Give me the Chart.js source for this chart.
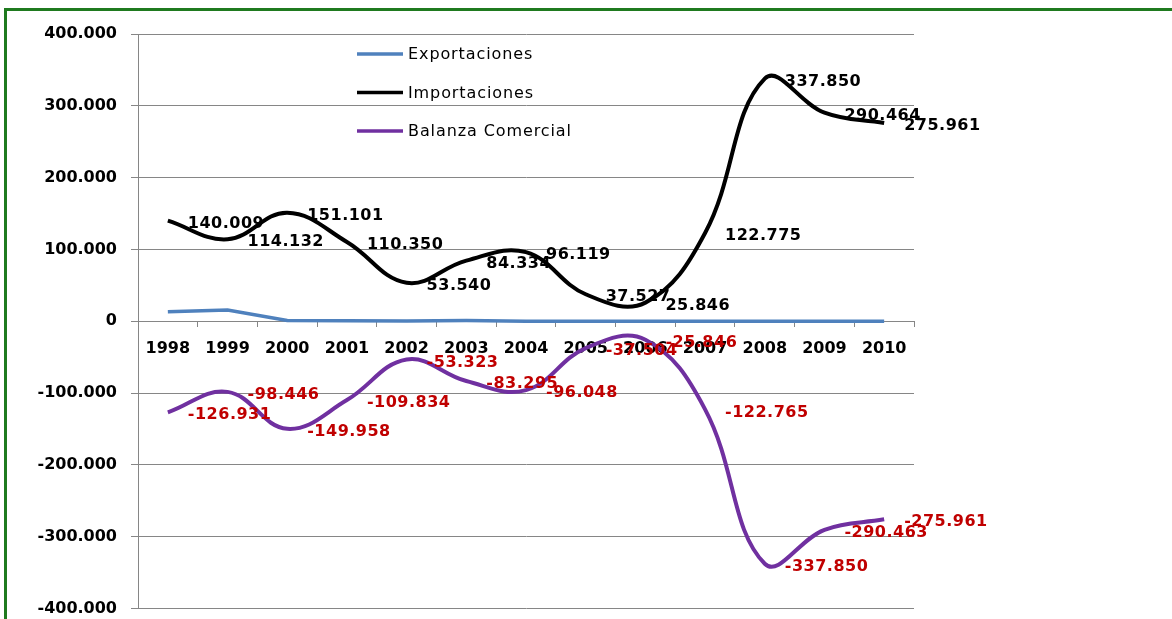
<!DOCTYPE html>
<html>
<head>
<meta charset="utf-8">
<script src="https://cdn.jsdelivr.net/npm/chart.js@4/dist/chart.umd.min.js"></script>
<style>
  html, body { margin: 0; padding: 0; background: #fff; overflow: hidden; }
  #wrap { position: relative; width: 1172px; height: 619px; overflow: hidden; }
  #frame { position: absolute; left: 4px; top: 8px; width: 3000px; height: 3000px;
           border: 3px solid #1f7a1f; pointer-events: none; }
  canvas { position: absolute; left: 0; top: 0; }
</style>
</head>
<body>
<div id="wrap">
  <canvas id="c" width="1172" height="632"></canvas>
  <div id="frame"></div>
</div>
<script>
// ---- data ----
const years = ['1998','1999','2000','2001','2002','2003','2004','2005','2006','2007','2008','2009','2010'];
const exportaciones = [13078, 15686, 1143, 516, 217, 1039, 71, 23, 0, 10, 0, 1, 0];
const importaciones = [140009, 114132, 151101, 110350, 53540, 84334, 96119, 37527, 25846, 122775, 337850, 290464, 275961];
const balanzaComercial = [-126931, -98446, -149958, -109834, -53323, -83295, -96048, -37504, -25846, -122765, -337850, -290463, -275961];
const seriesNames = ['Exportaciones', 'Importaciones', 'Balanza Comercial'];
const yMin = -400000, yMax = 400000, yStep = 100000;

function fmt(v) {
  if (v === 0) return '0';
  const neg = v < 0;
  let s = String(Math.abs(Math.round(v)));
  s = s.replace(/\B(?=(\d{3})+(?!\d))/g, '.');
  return (neg ? '-' : '') + s;
}

const dataLabels = {
  id: 'dataLabels',
  afterDatasetsDraw(chart) {
    const ctx = chart.ctx;
    ctx.save();
    ctx.font = 'bold 16px "DejaVu Sans"';
    ctx.letterSpacing = '0.5px';
    ctx.textAlign = 'left';
    ctx.textBaseline = 'middle';
    chart.data.datasets.forEach((ds, i) => {
      if (!ds.labelColor) return;
      const meta = chart.getDatasetMeta(i);
      ctx.fillStyle = ds.labelColor;
      meta.data.forEach((pt, j) => {
        ctx.fillText(fmt(ds.data[j]), pt.x + 20, pt.y + 3);
      });
    });
    ctx.restore();
  }
};

const customLegend = {
  id: 'customLegend',
  afterDraw(chart, args, opts) {
    const ctx = chart.ctx;
    ctx.save();
    ctx.font = '16px "DejaVu Sans"';
    ctx.letterSpacing = '0.9px';
    ctx.textAlign = 'left';
    ctx.textBaseline = 'middle';
    chart.data.datasets.forEach((ds, i) => {
      const y = opts.y + i * opts.gap;
      ctx.strokeStyle = ds.borderColor;
      ctx.lineWidth = 3.5;
      ctx.beginPath();
      ctx.moveTo(opts.x, y);
      ctx.lineTo(opts.x + opts.len, y);
      ctx.stroke();
      ctx.fillStyle = '#000';
      ctx.fillText(ds.label, opts.x + opts.len + 5, y + 1);
    });
    ctx.restore();
  }
};

new Chart(document.getElementById('c'), {
  type: 'line',
  data: {
    labels: years,
    datasets: [
      { label: seriesNames[0], data: exportaciones, borderColor: '#4f81bd', borderWidth: 3.5,
        pointRadius: 0, tension: 0, labelColor: null },
      { label: seriesNames[1], data: importaciones, borderColor: '#000000', borderWidth: 4,
        pointRadius: 0, tension: 0.4, labelColor: '#000000' },
      { label: seriesNames[2], data: balanzaComercial, borderColor: '#7030a0', borderWidth: 4,
        pointRadius: 0, tension: 0.4, labelColor: '#c00000' }
    ]
  },
  options: {
    responsive: false,
    animation: false,
    layout: { padding: { top: 34, bottom: 11, left: 0, right: 258 } },
    plugins: {
      legend: { display: false },
      tooltip: { enabled: false },
      customLegend: { x: 357, y: 54, gap: 38.5, len: 46 }
    },
    scales: {
      x: {
        position: { y: 0 },
        offset: true,
        z: 1,
        grid: { display: true, drawOnChartArea: false, drawTicks: true, tickLength: 6,
                color: '#868686', offset: true },
        border: { display: false },
        ticks: { font: { family: 'DejaVu Sans', weight: 'bold', size: 16 }, color: '#000',
                 padding: 12, maxRotation: 0, autoSkip: false }
      },
      y: {
        min: yMin, max: yMax,
        ticks: { stepSize: yStep, callback: v => fmt(v),
                 font: { family: 'DejaVu Sans', weight: 'bold', size: 16 }, color: '#000', padding: 14 },
        grid: { color: '#868686', tickLength: 7 },
        border: { color: '#868686' },
        afterFit(s) { s.width = 138; }
      }
    }
  },
  plugins: [dataLabels, customLegend]
});
</script>
</body>
</html>
